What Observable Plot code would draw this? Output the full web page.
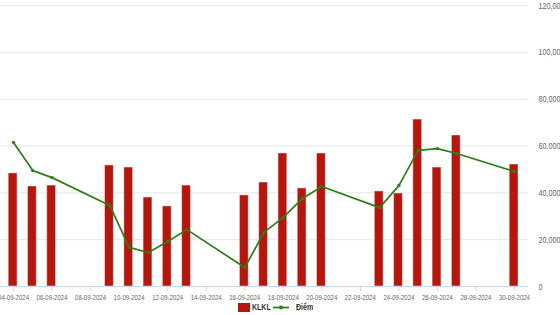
<!DOCTYPE html>
<html><head><meta charset="utf-8">
<script src="https://cdn.jsdelivr.net/npm/d3@7"></script>
<script src="https://cdn.jsdelivr.net/npm/@observablehq/plot@0.6"></script>
<style>
body{margin:0;background:#fff;font-family:"Liberation Sans",Arial,sans-serif;}
#wrap{position:relative;width:560px;height:315px;overflow:hidden;}
#legend{position:absolute;top:302px;left:238px;height:11px;font-size:9px;font-weight:bold;color:#333;white-space:nowrap;}
#legend .it{position:absolute;top:0;height:11px;line-height:11px;}
#legend .sq{position:absolute;left:0;top:1px;width:12px;height:9px;background:#b5170f;}
#legend .t{display:inline-block;transform:scaleX(0.78);transform-origin:left center;}
</style></head><body>
<div id="wrap"><div id="chart"></div><div id="legend"></div></div>
<script>
// Trading dates
const dates = ["2024-09-04","2024-09-05","2024-09-06","2024-09-09","2024-09-10","2024-09-11","2024-09-12","2024-09-13",
  "2024-09-16","2024-09-17","2024-09-18","2024-09-19","2024-09-20","2024-09-23","2024-09-24","2024-09-25",
  "2024-09-26","2024-09-27","2024-09-30"];
// KLKL (volume, right axis)
const klkl = [48300,42700,43100,51700,50800,38000,34200,43100,38900,44400,56800,41900,56800,40600,39700,71300,50800,64500,52100];
// Điểm (index line; its own left axis is cropped off, values expressed on the visible right-axis scale)
const diem = [61500,49500,46500,34600,16700,14500,19200,24300,8100,23100,29500,37600,42700,33700,43100,58100,58900,56800,49100];
// Axis ticks
const tickDates = ["2024-09-04","2024-09-06","2024-09-08","2024-09-10","2024-09-12","2024-09-14","2024-09-16",
  "2024-09-18","2024-09-20","2024-09-22","2024-09-24","2024-09-26","2024-09-28","2024-09-30"];
const yTicks = [0,20000,40000,60000,80000,100000,120000];

const parse = d3.utcParse("%Y-%m-%d");
const data = dates.map((d,i)=>({date: parse(d), klkl: klkl[i], diem: diem[i]}));
const xTicks = tickDates.map(parse);
const halfBar = 5.3; // hours each side of the day

const chart = Plot.plot({
  width: 560, height: 301,
  marginLeft: 0, marginRight: 32, marginTop: 5, marginBottom: 15,
  style: {fontFamily: '"Liberation Sans", Arial, sans-serif', background: "#fff", overflow: "hidden"},
  x: {type: "utc", domain: [new Date(Date.UTC(2024,8,3,7,48)), new Date(Date.UTC(2024,8,30,17,26))]},
  y: {domain: [0,120000]},
  marks: [
    Plot.gridY(yTicks, {stroke: "#e6e6e6", strokeOpacity: 1}),
    Plot.axisY(yTicks, {anchor: "right", tickSize: 0, tickPadding: 10, tickFormat: d3.format(","), fill: "#666", fontSize: 9.5, label: null}),
    Plot.rectY(data, {x1: d => d3.utcHour.offset(d.date, -halfBar), x2: d => d3.utcHour.offset(d.date, halfBar), y: "klkl",
      fill: "#b5170f", stroke: "#fff", strokeOpacity: 0.45, strokeWidth: 1}),
    Plot.ruleY([0], {stroke: "#ccd6eb"}),
    Plot.axisX(xTicks, {tickFormat: d3.utcFormat("%d-%m-%Y"), stroke: "#ccd6eb", fill: "#666", tickSize: 5, tickPadding: 3, fontSize: 7.5, label: null}),
    Plot.lineY(data, {x: "date", y: "diem", stroke: "#2e7d16", strokeWidth: 1.7}),
    Plot.dot(data, {x: "date", y: "diem", r: 1.7, fill: "#2e7d16", stroke: "none"})
  ]
});
document.getElementById("chart").appendChild(chart);

// condense tick labels like the reference
d3.select(chart).selectAll('g[aria-label="x-axis tick label"] text').each(function(){
  this.setAttribute("textLength", "31");
  this.setAttribute("lengthAdjust", "spacingAndGlyphs");
});
d3.select(chart).selectAll('g[aria-label="y-axis tick label"] text').each(function(){
  const len = this.getComputedTextLength();
  this.setAttribute("textLength", (len*0.76).toFixed(1));
  this.setAttribute("lengthAdjust", "spacingAndGlyphs");
});

// legend
const lg = document.getElementById("legend");
lg.innerHTML = `
<div class="it" style="left:0;width:40px"><span class="sq"></span><span class="t" style="margin-left:14px">KLKL</span></div>
<div class="it" style="left:35px;width:60px">
  <svg width="16" height="11" style="position:absolute;left:0;top:0"><line x1="0" y1="5.5" x2="16" y2="5.5" stroke="#2e7d16" stroke-width="1.7"/><circle cx="8" cy="5.5" r="2" fill="#2e7d16"/></svg>
  <span class="t" style="margin-left:23px">Điểm</span></div>`;
</script>
</body></html>
